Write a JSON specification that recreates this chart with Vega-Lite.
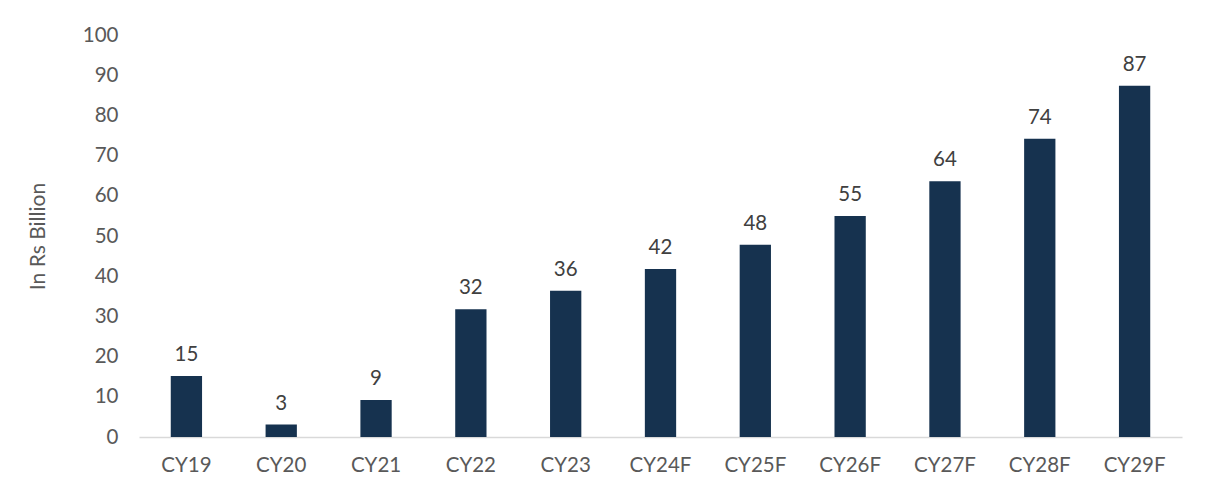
{
  "$schema": "https://vega.github.io/schema/vega-lite/v6.json",
  "autosize": "none",
  "width": 1043,
  "height": 402,
  "padding": {"left": 139, "top": 35, "right": 23, "bottom": 56},
  "background": "white",
  "config": {
    "view": {"stroke": null},
    "font": "Lato",
    "axis": {"labelFont": "Lato", "titleFont": "Lato", "labelColor": "#595959", "titleColor": "#595959", "grid": false}
  },
  "data": {
    "values": [
      {"year": "CY19", "value": 15.2},
      {"year": "CY20", "value": 3.1},
      {"year": "CY21", "value": 9.2},
      {"year": "CY22", "value": 31.8},
      {"year": "CY23", "value": 36.4},
      {"year": "CY24F", "value": 41.8},
      {"year": "CY25F", "value": 47.8},
      {"year": "CY26F", "value": 55.0},
      {"year": "CY27F", "value": 63.6},
      {"year": "CY28F", "value": 74.2},
      {"year": "CY29F", "value": 87.4}
    ]
  },
  "encoding": {
    "x": {
      "field": "year", "type": "nominal", "sort": null,
      "scale": {"paddingInner": 0.67, "paddingOuter": 0.335},
      "axis": {"title": null, "labelAngle": 0, "labelFontSize": 20.5, "labelPadding": 18, "ticks": false, "domainColor": "#d9d9d9", "domainWidth": 1.5}
    },
    "y": {
      "field": "value", "type": "quantitative",
      "scale": {"domain": [0, 100]},
      "axis": {"title": "In Rs Billion", "titleFontSize": 21, "titleFontWeight": "normal", "titlePadding": 34, "labelFontSize": 20.5, "labelPadding": 21, "labelOverlap": false, "ticks": false, "domain": false, "values": [0,10,20,30,40,50,60,70,80,90,100]}
    }
  },
  "layer": [
    {"mark": {"type": "bar", "color": "#16324f"}},
    {
      "mark": {"type": "text", "baseline": "bottom", "dy": -11, "fontSize": 20.5, "color": "#404040", "font": "Lato"},
      "encoding": {"text": {"field": "value", "type": "quantitative", "format": ".0f"}}
    }
  ]
}
